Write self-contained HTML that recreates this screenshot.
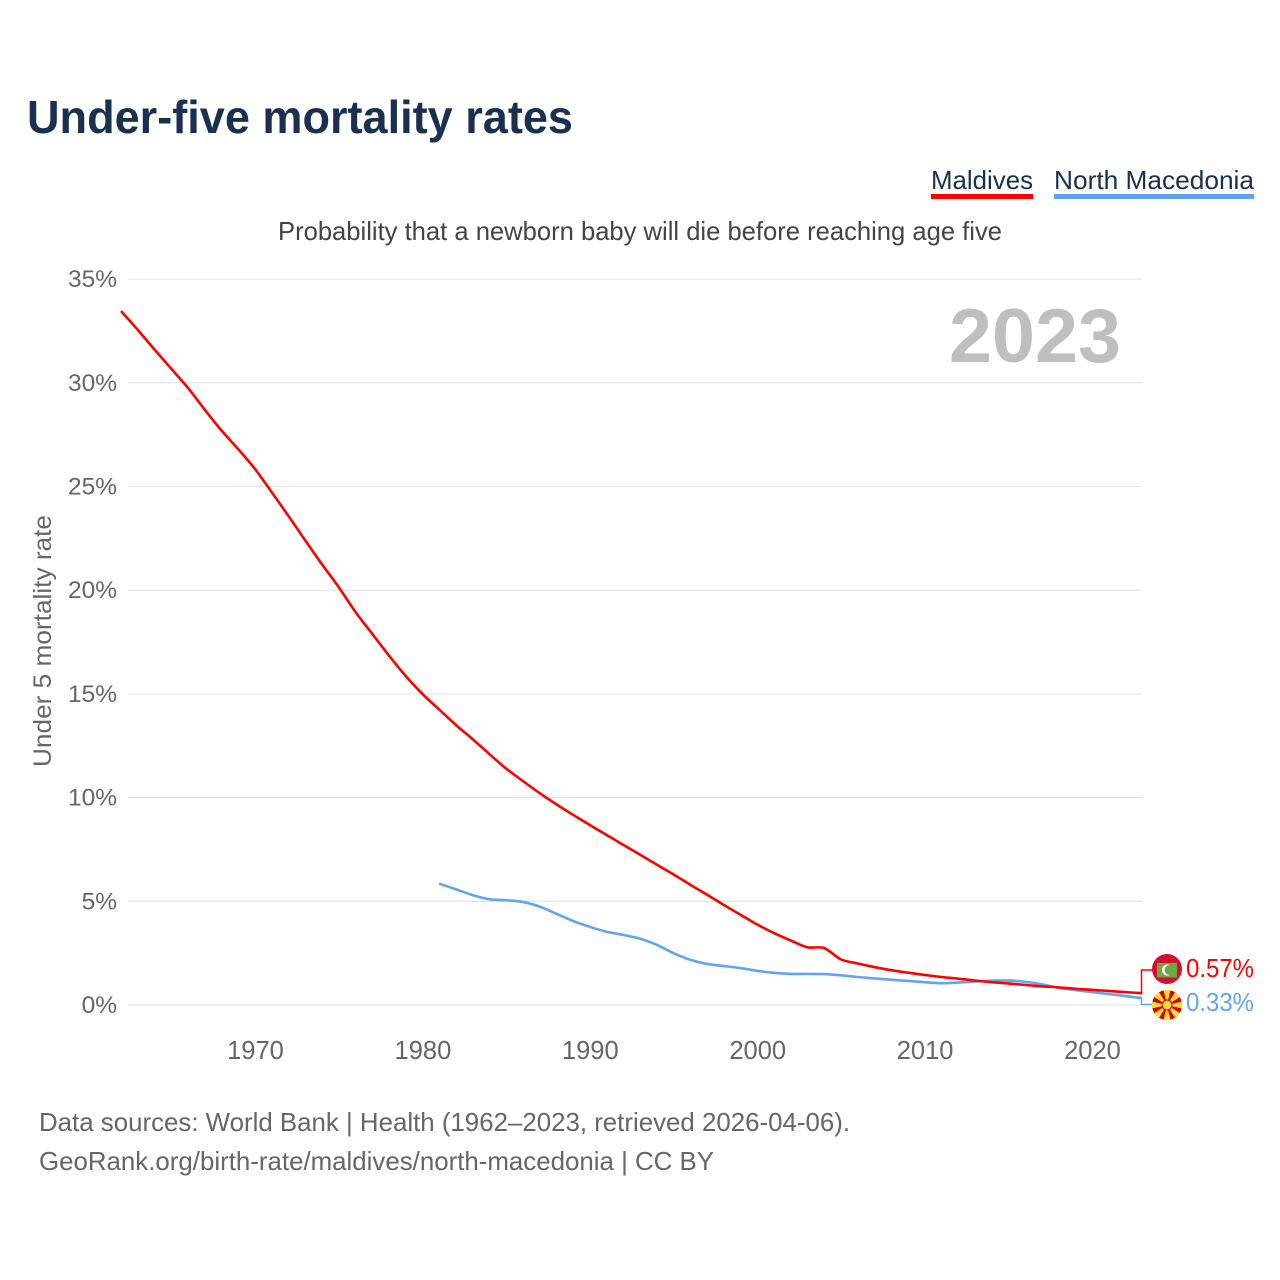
<!DOCTYPE html>
<html lang="en">
<head>
<meta charset="utf-8">
<title>Under-five mortality rates</title>
<style>
html,body{margin:0;padding:0;background:#fff;}
svg{display:block;font-family:"Liberation Sans",sans-serif;}
</style>
</head>
<body>
<svg id="chart" width="1280" height="1280" viewBox="0 0 1280 1280" xmlns="http://www.w3.org/2000/svg">
  <rect x="0" y="0" width="1280" height="1280" fill="#ffffff"></rect>
  <text x="27" y="133" font-size="46" font-weight="700" fill="#1a3050" textLength="546" lengthAdjust="spacingAndGlyphs">Under-five mortality rates</text>

  <g>
    <text x="931" y="189" font-size="26" fill="#1a3050" textLength="102" lengthAdjust="spacingAndGlyphs">Maldives</text>
    <rect x="931" y="194" width="102" height="5" fill="#ff0000"></rect>
  </g>
  <g>
    <text x="1054" y="189" font-size="26" fill="#1a3050" textLength="200" lengthAdjust="spacingAndGlyphs">North Macedonia</text>
    <rect x="1054" y="194" width="200" height="5" fill="#60a5ee"></rect>
  </g>

  <text x="278" y="240" font-size="26" fill="#444444" textLength="724" lengthAdjust="spacingAndGlyphs">Probability that a newborn baby will die before reaching age five</text>

  <g id="grid"></g>
  <g id="y-axis"></g>
  <g id="x-axis"></g>

  <text x="0" y="0" transform="translate(51 767) rotate(-90)" font-size="25" fill="#666666" textLength="252" lengthAdjust="spacingAndGlyphs">Under 5 mortality rate</text>

  <text x="1121" y="362" text-anchor="end" font-size="76" font-weight="700" fill="#bfbfbf" textLength="172" lengthAdjust="spacingAndGlyphs">2023</text>

  <g id="series"></g>
  <g id="end-labels"></g>

  <g>
    <circle cx="1167" cy="969" r="15" fill="#d21034"></circle>
    <rect x="1157" y="963" width="20" height="14.5" fill="#6ea843"></rect>
    <circle cx="1167.5" cy="970" r="5.5" fill="#ffffff"></circle>
    <circle cx="1169.5" cy="970" r="5" fill="#6ea843"></circle>
  </g>

  <g>
    <circle cx="1167" cy="1005" r="15" fill="#d20000"></circle>
    <g fill="#ffd83a">
      <polygon points="1167,1005 1163.5,990 1170.5,990"></polygon>
      <polygon points="1167,1005 1163.5,990 1170.5,990" transform="rotate(45 1167 1005)"></polygon>
      <polygon points="1167,1005 1163.5,990 1170.5,990" transform="rotate(90 1167 1005)"></polygon>
      <polygon points="1167,1005 1163.5,990 1170.5,990" transform="rotate(135 1167 1005)"></polygon>
      <polygon points="1167,1005 1163.5,990 1170.5,990" transform="rotate(180 1167 1005)"></polygon>
      <polygon points="1167,1005 1163.5,990 1170.5,990" transform="rotate(225 1167 1005)"></polygon>
      <polygon points="1167,1005 1163.5,990 1170.5,990" transform="rotate(270 1167 1005)"></polygon>
      <polygon points="1167,1005 1163.5,990 1170.5,990" transform="rotate(315 1167 1005)"></polygon>
    </g>
    <circle cx="1167" cy="1005" r="5.5" fill="#d20000"></circle>
    <circle cx="1167" cy="1005" r="4.5" fill="#ffd83a"></circle>
  </g>

  <text x="39" y="1131" font-size="26" fill="#666666" textLength="811" lengthAdjust="spacingAndGlyphs">Data sources: World Bank | Health (1962–2023, retrieved 2026-04-06).</text>
  <text x="39" y="1170" font-size="26" fill="#666666" textLength="675" lengthAdjust="spacingAndGlyphs">GeoRank.org/birth-rate/maldives/north-macedonia | CC BY</text>
</svg>

<script>
const yTicks = [0, 5, 10, 15, 20, 25, 30, 35];
const xTicks = [1970, 1980, 1990, 2000, 2010, 2020];
const maldivesStartYear = 1962;
const maldivesValues = [33.46, 32.55, 31.6, 30.68, 29.75, 28.7, 27.7, 26.8, 25.85, 24.72, 23.58, 22.4, 21.25, 20.15, 18.95, 17.9, 16.85, 15.87, 15.0, 14.25, 13.5, 12.82, 12.1, 11.4, 10.8, 10.22, 9.68, 9.17, 8.68, 8.2, 7.72, 7.25, 6.77, 6.3, 5.8, 5.32, 4.83, 4.35, 3.88, 3.47, 3.11, 2.78, 2.75, 2.2, 2.0, 1.83, 1.68, 1.56, 1.45, 1.35, 1.27, 1.18, 1.1, 1.04, 0.97, 0.9, 0.85, 0.78, 0.73, 0.68, 0.62, 0.57];
const macedoniaStartYear = 1981;
const macedoniaValues = [5.85, 5.58, 5.3, 5.1, 5.05, 4.97, 4.75, 4.4, 4.05, 3.77, 3.53, 3.38, 3.2, 2.9, 2.5, 2.18, 1.98, 1.88, 1.78, 1.65, 1.55, 1.5, 1.5, 1.49, 1.43, 1.35, 1.28, 1.22, 1.16, 1.1, 1.05, 1.08, 1.13, 1.17, 1.18, 1.12, 1.0, 0.83, 0.72, 0.62, 0.53, 0.43, 0.33];

const SVG_NS = 'http://www.w3.org/2000/svg';
const xScale = function (year) { return 255 + (year - 1970) * 16.74; };
const yScale = function (value) { return 1005 - value * 20.74; };

function make(tag, attrs, parent, content) {
  const el = document.createElementNS(SVG_NS, tag);
  Object.keys(attrs).forEach(function (k) { el.setAttribute(k, attrs[k]); });
  if (content !== undefined) el.textContent = content;
  parent.appendChild(el);
  return el;
}

const grid = document.getElementById('grid');
const yAxis = document.getElementById('y-axis');
const xAxis = document.getElementById('x-axis');
const series = document.getElementById('series');
const endLabels = document.getElementById('end-labels');

yTicks.forEach(function (t) {
  const line = make('line', { x1: 128, x2: 1142, y1: yScale(t), y2: yScale(t), stroke: '#e8e8e8', 'stroke-width': 1.3 }, grid);
  
  
  const label = make('text', { x: 117, y: yScale(t) + 8, 'text-anchor': 'end', 'font-size': 24.5, fill: '#666666' }, yAxis, t + '%');
  
  
});

xTicks.forEach(function (t) {
  const label = make('text', { x: xScale(t) + 0.5, y: 1059, 'text-anchor': 'middle', 'font-size': 25.5, fill: '#666666' }, xAxis, String(t));
  
  
});

function pathFor(values, startYear) {
  const pts = values.map(function (v, i) { return [xScale(startYear + i), yScale(v)]; });
  let d = 'M' + pts[0][0].toFixed(2) + ' ' + pts[0][1].toFixed(2);
  for (let i = 0; i < pts.length - 1; i++) {
    const p0 = pts[Math.max(i - 1, 0)];
    const p1 = pts[i];
    const p2 = pts[i + 1];
    const p3 = pts[Math.min(i + 2, pts.length - 1)];
    const k = 1 / 8;
    d += ' C' + (p1[0] + (p2[0] - p0[0]) * k).toFixed(2) + ' ' + (p1[1] + (p2[1] - p0[1]) * k).toFixed(2) +
         ' ' + (p2[0] - (p3[0] - p1[0]) * k).toFixed(2) + ' ' + (p2[1] - (p3[1] - p1[1]) * k).toFixed(2) +
         ' ' + p2[0].toFixed(2) + ' ' + p2[1].toFixed(2);
  }
  return d;
}

const lineMk = make('path', { d: pathFor(macedoniaValues, macedoniaStartYear), fill: 'none', stroke: '#60a5ee', 'stroke-width': 2.6, 'stroke-linejoin': 'round' }, series);


const lineMv = make('path', { d: pathFor(maldivesValues, maldivesStartYear), fill: 'none', stroke: '#ff0000', 'stroke-width': 2.6, 'stroke-linejoin': 'round' }, series);



const lastMv = maldivesValues[maldivesValues.length - 1];
const lastMk = macedoniaValues[macedoniaValues.length - 1];
const endX = xScale(maldivesStartYear + maldivesValues.length - 1);

const connMv = make('path', { d: 'M' + endX + ' ' + yScale(lastMv) + ' H1141.5 V970 H1153', fill: 'none', stroke: '#ff0000', 'stroke-width': 1.5 }, endLabels);


const connMk = make('path', { d: 'M' + endX + ' ' + yScale(lastMk) + ' H1141.5 V1004.5 H1153', fill: 'none', stroke: '#60a5ee', 'stroke-width': 1.5 }, endLabels);



const valMv = make('text', { x: 1186, y: 977, 'font-size': 25.5, fill: '#ff0000', textLength: 68, lengthAdjust: 'spacingAndGlyphs' }, endLabels, lastMv.toFixed(2) + '%');


const valMk = make('text', { x: 1186, y: 1011, 'font-size': 25.5, fill: '#60a5ee', textLength: 68, lengthAdjust: 'spacingAndGlyphs' }, endLabels, lastMk.toFixed(2) + '%');


</script>
</body>
</html>
